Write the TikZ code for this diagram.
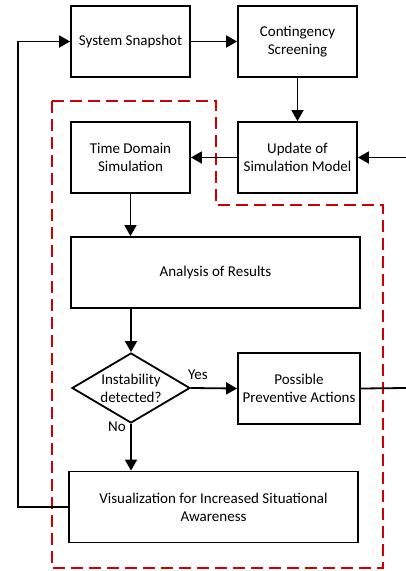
\documentclass[tikz,border=0pt]{standalone}
\usepackage{fontspec}
\setmainfont{Carlito}
\usetikzlibrary{arrows.meta,shapes.geometric}

\begin{document}
\begin{tikzpicture}[x=1pt, y=-1pt, align=center,
  every node/.style={font=\fontsize{15}{18}\selectfont},
  box/.style={draw, line width=1.8pt, minimum width=119pt, minimum height=71pt, inner sep=2pt},
  widebox/.style={box, minimum width=289pt},
  decision/.style={draw, line width=1.8pt, diamond, aspect=1.69, inner sep=0pt, minimum width=118pt, minimum height=70pt},
  flow/.style={line width=1.8pt, -{Triangle[length=11pt, width=12pt]}},
  plain/.style={line width=1.8pt},
  region/.style={draw=red!80!black, line width=1.8pt, dash pattern=on 12pt off 6pt}]

\useasboundingbox (0, 0) rectangle (406, 571);

\draw[region] (52, 101) -- (216, 101) -- (216, 205) -- (383, 205) -- (383, 568) -- (52, 568) -- cycle;

\node[box] (snapshot) at (130.5, 41.5) {System Snapshot};
\node[box] (screening) at (297.5, 41.5) {Contingency\\Screening};
\node[box] (update) at (297.5, 157.5) {Update of\\Simulation Model};
\node[box] (tds) at (130.5, 157.5) {Time Domain\\Simulation};
\node[widebox] (analysis) at (215.5, 272.5) {Analysis of Results};
\node[decision] (instab) at (131, 388) {Instability\\detected?};
\node[box, minimum width=122pt] (actions) at (299, 388.5) {Possible\\Preventive Actions};
\node[widebox] (visual) at (213.5, 507) {Visualization for Increased Situational\\Awareness};

\coordinate (updatein) at (406, 157.5);
\coordinate (actionsout) at (406, 388);
\coordinate (loop) at (18, 0);

\draw[flow] (snapshot) -- (screening);
\draw[flow] (screening) -- (update);
\draw[flow] (update) -- (tds);
\draw[flow] (updatein) -- (update);
\draw[flow] (tds.south) -- (tds.south |- analysis.north);
\draw[flow] (instab.north |- analysis.south) -- (instab.north);
\draw[flow] (instab.east) -- node[above, pos=0.15, yshift=4pt] (yes) {Yes} (actions.west);
\draw[flow] (instab.south) -- node[left, pos=0.05, xshift=-1pt] (no) {No} (instab.south |- visual.north);
\draw[plain] (actions.east) -- (actionsout);
\draw[flow] (visual.west) -- (visual.west -| loop) |- (snapshot.west);

\end{tikzpicture}
\end{document}
